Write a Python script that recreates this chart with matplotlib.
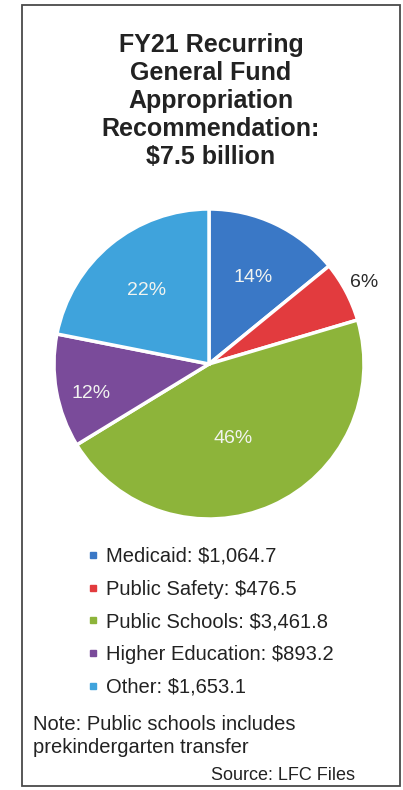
import matplotlib.pyplot as plt
from matplotlib.patches import Rectangle
from matplotlib.lines import Line2D
import numpy as np

plt.rcParams['font.family'] = ['Liberation Sans', 'DejaVu Sans']

# data (millions of dollars)
categories = ['Medicaid', 'Public Safety', 'Public Schools', 'Higher Education', 'Other']
values = [1064.7, 476.5, 3461.8, 893.2, 1653.1]
value_labels = ['$1,064.7', '$476.5', '$3,461.8', '$893.2', '$1,653.1']
colors = ['#3a78c6', '#e23b3e', '#8db43a', '#7a4b9a', '#3fa3dc']
# radial position of each percent label (fraction of radius) and small nudges
label_dist = [0.64, 1.13, 0.48, 0.78, 0.63]
label_nudge = [(0.01, -0.02), (0, 0), (-0.04, -0.04), (0.01, -0.05), (0, -0.01)]

W, H = 403, 790
fig = plt.figure(figsize=(W / 100, H / 100), dpi=100)

def fx(px):
    return px / W

def fy(py):
    return 1 - py / H

# frame
fig.patches.append(Rectangle((fx(22), fy(786)), fx(378), (786 - 5) / H,
                             transform=fig.transFigure, fill=False,
                             edgecolor='#4a4a4a', linewidth=1.3))

# title
fig.text(fx(211), fy(101), 'FY21 Recurring\nGeneral Fund\nAppropriation\nRecommendation:\n$7.5 billion',
         ha='center', va='center', fontsize=18, fontweight='bold',
         color='#222222', linespacing=1.21)

# pie
cx, cy, r = 209, 364, 155
ax = fig.add_axes([fx(cx - r), fy(cy + r), fx(2 * r), 2 * r / H])
wedges, texts, autotexts = ax.pie(values, colors=colors, startangle=90, counterclock=False,
                                  autopct='%.0f%%', pctdistance=0.64,
                                  wedgeprops=dict(edgecolor='white', linewidth=2.5),
                                  textprops=dict(fontsize=14, color='#f2f4f0'))
ax.set_xlim(-1, 1)
ax.set_ylim(-1, 1)
ax.set_aspect('equal')
ax.axis('off')

for w, t, d, (nx, ny) in zip(wedges, autotexts, label_dist, label_nudge):
    ang = np.deg2rad((w.theta1 + w.theta2) / 2)
    t.set_position((d * np.cos(ang) + nx, d * np.sin(ang) + ny))
# small slice label sits outside in dark text
autotexts[1].set_color('#2a2a2a')

# legend
handles = [Line2D([], [], marker='s', linestyle='none', markersize=4,
                  markerfacecolor=c, markeredgecolor=c) for c in colors]
labels = [f'{c}: {v}' for c, v in zip(categories, value_labels)]
fig.legend(handles, labels, loc='upper left', bbox_to_anchor=(fx(88), fy(547)),
           frameon=False, fontsize=14.5, handlelength=0.5, handletextpad=0.4,
           labelspacing=0.68, borderpad=0, borderaxespad=0,
           labelcolor='#222222')

# notes
fig.text(fx(33), fy(736), 'Note: Public schools includes\nprekindergarten transfer',
         ha='left', va='center', fontsize=14.5, color='#222222', linespacing=1.28)
fig.text(fx(355), fy(775), 'Source: LFC Files', ha='right', va='center',
         fontsize=13, color='#222222')

fig.savefig('out.png', dpi=100, facecolor='white')
